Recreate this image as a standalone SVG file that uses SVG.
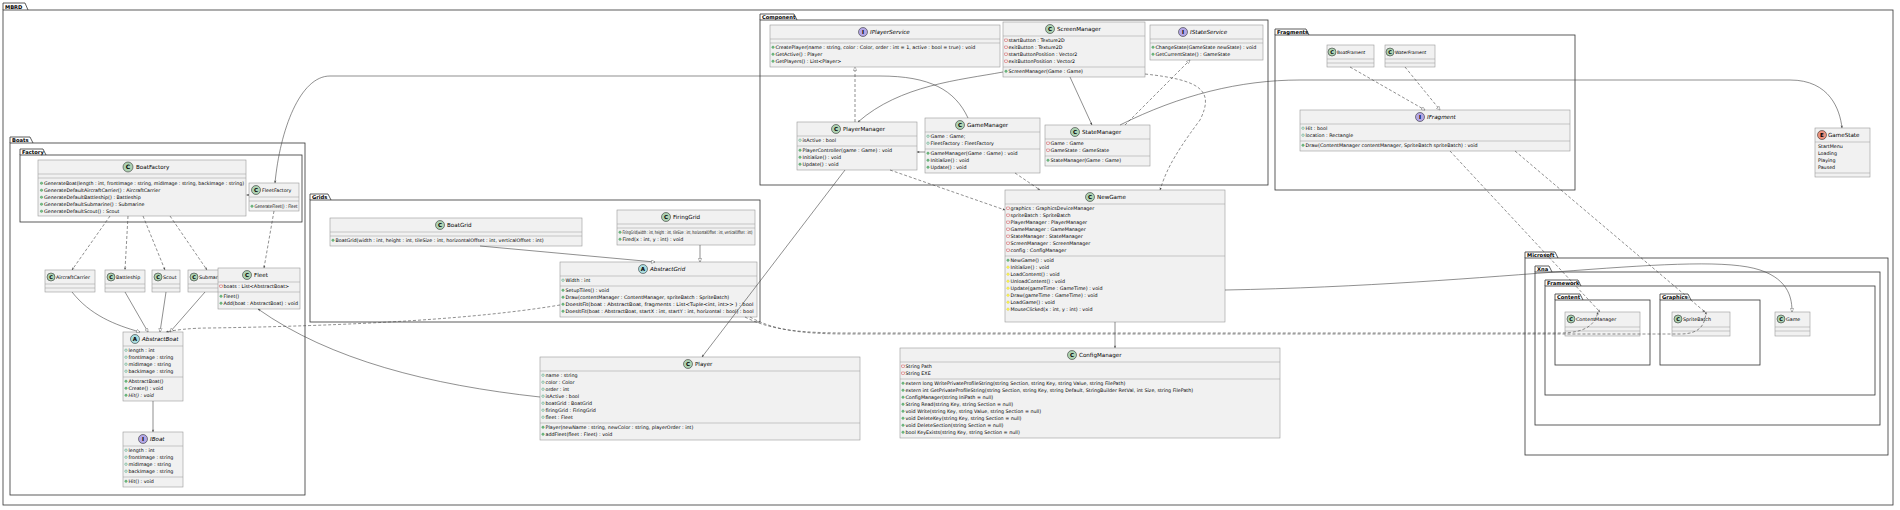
<svg xmlns="http://www.w3.org/2000/svg" xmlns:xlink="http://www.w3.org/1999/xlink" width="1900" height="510" viewBox="0 0 1900 510">
<style>
text{font-family:"DejaVu Sans","Liberation Sans",sans-serif;fill:#000}
.m{font-size:4.8px}
.n{font-size:5.6px}
.i{font-style:italic}
.tab{font-size:5.2px;font-weight:bold}
.lt{font-size:6px;font-weight:bold}
.box{fill:#F1F1F1;stroke:#999;stroke-width:.6}
.sep{stroke:#999;stroke-width:.5}
.pkg{fill:none;stroke:#333;stroke-width:.8}
.tb{fill:#fff;stroke:#333;stroke-width:.8}
.c{stroke:#181818;stroke-width:.5}
.e{fill:none;stroke:#444;stroke-width:.6}
.d{fill:none;stroke:#444;stroke-width:.6;stroke-dasharray:3 2}
</style>
<defs>
<circle id="m" r="1.2" fill="#84BE84" stroke="#038048" stroke-width=".3"/>
<circle id="f" r="1.2" fill="none" stroke="#038048" stroke-width=".4"/>
<rect id="p" x="-1.2" y="-1.2" width="2.4" height="2.4" fill="none" stroke="#C82930" stroke-width=".4"/>
<path id="pr" d="M0-1.5L1.5 0 0 1.5-1.5 0Z" fill="#FFFF44" stroke="#B38D22" stroke-width=".3"/>
<marker id="a" viewBox="0 0 10 10" refX="9" refY="5" markerWidth="5" markerHeight="5" orient="auto"><path d="M0 1L9 5 0 9 3 5Z" fill="#444"/></marker>
<marker id="t" viewBox="0 0 12 12" refX="11" refY="6" markerWidth="7" markerHeight="7" orient="auto"><path d="M1 1L11 6 1 11Z" fill="#fff" stroke="#444"/></marker>
</defs>

<!-- packages -->
<g id="pkg-mbrd"><path class="tb" d="M3 10V3H25L28 10"/><text class="tab" x="5" y="8.8">MBRD</text><rect class="pkg" x="3" y="10" width="1890" height="495"/></g>
<g id="pkg-boats"><path class="tb" d="M10 143V137H30L33 143"/><text class="tab" x="12" y="141.8">Boats</text><rect class="pkg" x="10" y="143" width="295" height="352"/></g>
<g id="pkg-factory"><path class="tb" d="M20 155V149H43L46 155"/><text class="tab" x="22" y="153.8">Factory</text><rect class="pkg" x="20" y="155" width="282" height="67"/></g>
<g id="pkg-grids"><path class="tb" d="M310 200V194H328L331 200"/><text class="tab" x="312" y="198.8">Grids</text><rect class="pkg" x="310" y="200" width="450" height="122"/></g>
<g id="pkg-component"><path class="tb" d="M760 20V14H794L797 20"/><text class="tab" x="762" y="18.8">Component</text><rect class="pkg" x="760" y="20" width="508" height="165"/></g>
<g id="pkg-fragments"><path class="tb" d="M1275 35V29H1306L1309 35"/><text class="tab" x="1277" y="33.8">Fragments</text><rect class="pkg" x="1275" y="35" width="300" height="155"/></g>
<g id="pkg-ms"><path class="tb" d="M1525 258V252H1555L1558 258"/><text class="tab" x="1527" y="256.8">Microsoft</text><rect class="pkg" x="1525" y="258" width="363" height="197"/>
<path class="tb" d="M1535 272V266H1549L1552 272"/><text class="tab" x="1537" y="270.8">Xna</text><rect class="pkg" x="1535" y="272" width="345" height="153"/>
<path class="tb" d="M1545 286V280H1578L1581 286"/><text class="tab" x="1547" y="284.8">Framework</text><rect class="pkg" x="1545" y="286" width="330" height="109"/>
<path class="tb" d="M1555 300V294H1580L1583 300"/><text class="tab" x="1557" y="298.8">Content</text><rect class="pkg" x="1555" y="300" width="95" height="65"/>
<path class="tb" d="M1660 300V294H1688L1691 300"/><text class="tab" x="1662" y="298.8">Graphics</text><rect class="pkg" x="1660" y="300" width="100" height="65"/></g>

<!-- classes -->
<g id="BoatFactory"><rect class="box" x="38" y="160" width="208" height="56"/><circle cx="128" cy="167" r="5" fill="#ADD1B2" class="c"/><text class="lt" x="128" y="169.2" text-anchor="middle">C</text><text class="n" x="136" y="169">BoatFactory</text><line class="sep" x1="38" y1="174" x2="246" y2="174"/><line class="sep" x1="38" y1="178" x2="246" y2="178"/>
<g class="m"><use href="#m" x="41.5" y="183.2"/><text x="44" y="185" textLength="200" lengthAdjust="spacingAndGlyphs">GenerateBoat(length : int, frontImage : string, midImage : string, backImage : string)</text>
<use href="#m" x="41.5" y="190.2"/><text x="44" y="192">GenerateDefaultAircraftCarrier() : AircraftCarrier</text>
<use href="#m" x="41.5" y="197.2"/><text x="44" y="199">GenerateDefaultBattleship() : Battleship</text>
<use href="#m" x="41.5" y="204.2"/><text x="44" y="206">GenerateDefaultSubmarine() : Submarine</text>
<use href="#m" x="41.5" y="211.2"/><text x="44" y="213">GenerateDefaultScout() : Scout</text></g></g>

<g id="FleetFactory"><rect class="box" x="249" y="183" width="50" height="28"/><circle cx="256" cy="190" r="4.5" fill="#ADD1B2" class="c"/><text class="lt" x="256" y="192.2" text-anchor="middle" style="font-size:5.5px">C</text><text class="n" x="262" y="192" style="font-size:4.8px">FleetFactory</text><line class="sep" x1="249" y1="197" x2="299" y2="197"/><line class="sep" x1="249" y1="201" x2="299" y2="201"/><use href="#m" x="252" y="206.2"/><text class="m" x="254.5" y="208" textLength="43" lengthAdjust="spacingAndGlyphs">GenerateFleet() : Fleet</text></g>

<g id="AircraftCarrier"><rect class="box" x="45" y="270" width="50" height="22"/><circle cx="51" cy="277" r="4" fill="#ADD1B2" class="c"/><text class="lt" x="51" y="279" text-anchor="middle" style="font-size:5px">C</text><text class="m" x="56" y="279">AircraftCarrier</text><line class="sep" x1="45" y1="284" x2="95" y2="284"/><line class="sep" x1="45" y1="288" x2="95" y2="288"/></g>
<g id="Battleship"><rect class="box" x="105" y="270" width="40" height="22"/><circle cx="111" cy="277" r="4" fill="#ADD1B2" class="c"/><text class="lt" x="111" y="279" text-anchor="middle" style="font-size:5px">C</text><text class="m" x="116" y="279">Battleship</text><line class="sep" x1="105" y1="284" x2="145" y2="284"/><line class="sep" x1="105" y1="288" x2="145" y2="288"/></g>
<g id="Scout"><rect class="box" x="152" y="270" width="28" height="22"/><circle cx="158" cy="277" r="4" fill="#ADD1B2" class="c"/><text class="lt" x="158" y="279" text-anchor="middle" style="font-size:5px">C</text><text class="m" x="163" y="279">Scout</text><line class="sep" x1="152" y1="284" x2="180" y2="284"/><line class="sep" x1="152" y1="288" x2="180" y2="288"/></g>
<g id="Submarine"><rect class="box" x="188" y="270" width="42" height="22"/><circle cx="194" cy="277" r="4" fill="#ADD1B2" class="c"/><text class="lt" x="194" y="279" text-anchor="middle" style="font-size:5px">C</text><text class="m" x="199" y="279">Submarine</text><line class="sep" x1="188" y1="284" x2="230" y2="284"/><line class="sep" x1="188" y1="288" x2="230" y2="288"/></g>

<g id="Fleet"><rect class="box" x="218" y="268" width="82" height="41"/><circle cx="247" cy="275" r="4.5" fill="#ADD1B2" class="c"/><text class="lt" x="247" y="277.2" text-anchor="middle" style="font-size:5.5px">C</text><text class="n" x="254" y="277">Fleet</text><line class="sep" x1="218" y1="282" x2="300" y2="282"/>
<g class="m"><use href="#p" x="221" y="286.2"/><text x="223.5" y="288">boats : List&lt;AbstractBoat&gt;</text><line class="sep" x1="218" y1="292" x2="300" y2="292"/>
<use href="#m" x="221" y="296.2"/><text x="223.5" y="298">Fleet()</text><use href="#m" x="221" y="303.2"/><text x="223.5" y="305">Add(boat : AbstractBoat) : void</text></g></g>

<g id="AbstractBoat"><rect class="box" x="123" y="332" width="60" height="69"/><circle cx="135" cy="339" r="4.5" fill="#A9DCDF" class="c"/><text class="lt" x="135" y="341.2" text-anchor="middle" style="font-size:5.5px">A</text><text class="n i" x="142" y="341">AbstractBoat</text><line class="sep" x1="123" y1="346" x2="183" y2="346"/>
<g class="m"><use href="#f" x="126" y="350.2"/><text x="128.5" y="352">length : int</text><use href="#f" x="126" y="357.2"/><text x="128.5" y="359">frontImage : string</text><use href="#f" x="126" y="364.2"/><text x="128.5" y="366">midImage : string</text><use href="#f" x="126" y="371.2"/><text x="128.5" y="373">backImage : string</text>
<line class="sep" x1="123" y1="377" x2="183" y2="377"/>
<use href="#m" x="126" y="381.2"/><text x="128.5" y="383">AbstractBoat()</text><use href="#m" x="126" y="388.2"/><text x="128.5" y="390">Create() : void</text><use href="#m" x="126" y="395.2"/><text x="128.5" y="397" class="i">Hit() : void</text></g></g>

<g id="IBoat"><rect class="box" x="123" y="432" width="60" height="55"/><circle cx="143" cy="439" r="4.5" fill="#B4A7E5" class="c"/><text class="lt" x="143" y="441.2" text-anchor="middle" style="font-size:5.5px">I</text><text class="n i" x="150" y="441">IBoat</text><line class="sep" x1="123" y1="446" x2="183" y2="446"/>
<g class="m"><use href="#f" x="126" y="450.2"/><text x="128.5" y="452">length : int</text><use href="#f" x="126" y="457.2"/><text x="128.5" y="459">frontImage : string</text><use href="#f" x="126" y="464.2"/><text x="128.5" y="466">midImage : string</text><use href="#f" x="126" y="471.2"/><text x="128.5" y="473">backImage : string</text>
<line class="sep" x1="123" y1="477" x2="183" y2="477"/><use href="#m" x="126" y="481.2"/><text x="128.5" y="483">Hit() : void</text></g></g>

<g id="BoatGrid"><rect class="box" x="330" y="218" width="252" height="28"/><circle cx="440" cy="225" r="4.5" fill="#ADD1B2" class="c"/><text class="lt" x="440" y="227.2" text-anchor="middle" style="font-size:5.5px">C</text><text class="n" x="447" y="227">BoatGrid</text><line class="sep" x1="330" y1="232" x2="582" y2="232"/><line class="sep" x1="330" y1="236" x2="582" y2="236"/><use href="#m" x="333" y="240.2"/><text class="m" x="335.5" y="242">BoatGrid(width : int, height : int, tileSize : int, horizontalOffset : int, verticalOffset : int)</text></g>

<g id="FiringGrid"><rect class="box" x="617" y="210" width="138" height="35"/><circle cx="666" cy="217" r="4.5" fill="#ADD1B2" class="c"/><text class="lt" x="666" y="219.2" text-anchor="middle" style="font-size:5.5px">C</text><text class="n" x="673" y="219">FiringGrid</text><line class="sep" x1="617" y1="224" x2="755" y2="224"/><line class="sep" x1="617" y1="228" x2="755" y2="228"/>
<g class="m"><use href="#m" x="620" y="232.2"/><text x="622.5" y="234" textLength="130" lengthAdjust="spacingAndGlyphs">FiringGrid(width : int, height : int, tileSize : int, horizontalOffset : int, verticalOffset : int)</text><use href="#m" x="620" y="239.2"/><text x="622.5" y="241">Fired(x : int, y : int) : void</text></g></g>

<g id="AbstractGrid"><rect class="box" x="560" y="262" width="197" height="55"/><circle cx="643" cy="269" r="4.5" fill="#A9DCDF" class="c"/><text class="lt" x="643" y="271.2" text-anchor="middle" style="font-size:5.5px">A</text><text class="n i" x="650" y="271">AbstractGrid</text><line class="sep" x1="560" y1="276" x2="757" y2="276"/>
<g class="m"><use href="#f" x="563" y="280.2"/><text x="565.5" y="282">Width : int</text><line class="sep" x1="560" y1="286" x2="757" y2="286"/>
<use href="#m" x="563" y="290.2"/><text x="565.5" y="292">SetupTiles() : void</text>
<use href="#m" x="563" y="297.2"/><text x="565.5" y="299">Draw(contentManager : ContentManager, spriteBatch : SpriteBatch)</text>
<use href="#m" x="563" y="304.2"/><text x="565.5" y="306" textLength="188" lengthAdjust="spacingAndGlyphs">DoesItFit(boat : AbstractBoat, fragments : List&lt;Tuple&lt;int, int&gt;&gt; ) : bool</text>
<use href="#m" x="563" y="311.2"/><text x="565.5" y="313" textLength="188" lengthAdjust="spacingAndGlyphs">DoesItFit(boat : AbstractBoat, startX : int, startY : int, horizontal : bool) : bool</text></g></g>

<g id="Player"><rect class="box" x="540" y="357" width="320" height="83"/><circle cx="688" cy="364" r="4.5" fill="#ADD1B2" class="c"/><text class="lt" x="688" y="366.2" text-anchor="middle" style="font-size:5.5px">C</text><text class="n" x="695" y="366">Player</text><line class="sep" x1="540" y1="371" x2="860" y2="371"/>
<g class="m"><use href="#f" x="543" y="375.2"/><text x="545.5" y="377">name : string</text><use href="#f" x="543" y="382.2"/><text x="545.5" y="384">color : Color</text><use href="#f" x="543" y="389.2"/><text x="545.5" y="391">order : int</text><use href="#f" x="543" y="396.2"/><text x="545.5" y="398">isActive : bool</text><use href="#f" x="543" y="403.2"/><text x="545.5" y="405">boatGrid : BoatGrid</text><use href="#f" x="543" y="410.2"/><text x="545.5" y="412">firingGrid : FiringGrid</text><use href="#f" x="543" y="417.2"/><text x="545.5" y="419">fleet : Fleet</text>
<line class="sep" x1="540" y1="423" x2="860" y2="423"/>
<use href="#m" x="543" y="427.2"/><text x="545.5" y="429">Player(newName : string, newColor : string, playerOrder : int)</text><use href="#m" x="543" y="434.2"/><text x="545.5" y="436">addFleet(fleet : Fleet) : void</text></g></g>

<g id="IPlayerService"><rect class="box" x="770" y="25" width="230" height="42"/><circle cx="863" cy="32" r="4.5" fill="#B4A7E5" class="c"/><text class="lt" x="863" y="34.2" text-anchor="middle" style="font-size:5.5px">I</text><text class="n i" x="870" y="34">IPlayerService</text><line class="sep" x1="770" y1="39" x2="1000" y2="39"/><line class="sep" x1="770" y1="43" x2="1000" y2="43"/>
<g class="m"><use href="#m" x="773" y="47.2"/><text x="775.5" y="49">CreatePlayer(name : string, color : Color, order : int = 1, active : bool = true) : void</text><use href="#m" x="773" y="54.2"/><text x="775.5" y="56">GetActive() : Player</text><use href="#m" x="773" y="61.2"/><text x="775.5" y="63">GetPlayers() : List&lt;Player&gt;</text></g></g>

<g id="ScreenManager"><rect class="box" x="1003" y="22" width="142" height="55"/><circle cx="1050" cy="29" r="4.5" fill="#ADD1B2" class="c"/><text class="lt" x="1050" y="31.2" text-anchor="middle" style="font-size:5.5px">C</text><text class="n" x="1057" y="31">ScreenManager</text><line class="sep" x1="1003" y1="36" x2="1145" y2="36"/>
<g class="m"><use href="#p" x="1006" y="40.2"/><text x="1008.5" y="42">startButton : Texture2D</text><use href="#p" x="1006" y="47.2"/><text x="1008.5" y="49">exitButton : Texture2D</text><use href="#p" x="1006" y="54.2"/><text x="1008.5" y="56">startButtonPosition : Vector2</text><use href="#p" x="1006" y="61.2"/><text x="1008.5" y="63">exitButtonPosition : Vector2</text>
<line class="sep" x1="1003" y1="67" x2="1145" y2="67"/><use href="#m" x="1006" y="71.2"/><text x="1008.5" y="73">ScreenManager(Game : Game)</text></g></g>

<g id="IStateService"><rect class="box" x="1150" y="25" width="113" height="35"/><circle cx="1183" cy="32" r="4.5" fill="#B4A7E5" class="c"/><text class="lt" x="1183" y="34.2" text-anchor="middle" style="font-size:5.5px">I</text><text class="n i" x="1190" y="34">IStateService</text><line class="sep" x1="1150" y1="39" x2="1263" y2="39"/><line class="sep" x1="1150" y1="43" x2="1263" y2="43"/>
<g class="m"><use href="#m" x="1153" y="47.2"/><text x="1155.5" y="49">ChangeState(GameState newState) : void</text><use href="#m" x="1153" y="54.2"/><text x="1155.5" y="56">GetCurrentState() : GameState</text></g></g>

<g id="PlayerManager"><rect class="box" x="797" y="122" width="120" height="48"/><circle cx="836" cy="129" r="4.5" fill="#ADD1B2" class="c"/><text class="lt" x="836" y="131.2" text-anchor="middle" style="font-size:5.5px">C</text><text class="n" x="843" y="131">PlayerManager</text><line class="sep" x1="797" y1="136" x2="917" y2="136"/>
<g class="m"><use href="#f" x="800" y="140.2"/><text x="802.5" y="142">isActive : bool</text><line class="sep" x1="797" y1="146" x2="917" y2="146"/>
<use href="#m" x="800" y="150.2"/><text x="802.5" y="152">PlayerController(game : Game) : void</text><use href="#m" x="800" y="157.2"/><text x="802.5" y="159">Initialize() : void</text><use href="#m" x="800" y="164.2"/><text x="802.5" y="166">Update() : void</text></g></g>

<g id="GameManager"><rect class="box" x="925" y="118" width="115" height="55"/><circle cx="960" cy="125" r="4.5" fill="#ADD1B2" class="c"/><text class="lt" x="960" y="127.2" text-anchor="middle" style="font-size:5.5px">C</text><text class="n" x="967" y="127">GameManager</text><line class="sep" x1="925" y1="132" x2="1040" y2="132"/>
<g class="m"><use href="#f" x="928" y="136.2"/><text x="930.5" y="138">Game : Game;</text><use href="#f" x="928" y="143.2"/><text x="930.5" y="145">FleetFactory : FleetFactory</text><line class="sep" x1="925" y1="149" x2="1040" y2="149"/>
<use href="#m" x="928" y="153.2"/><text x="930.5" y="155">GameManager(Game : Game) : void</text><use href="#m" x="928" y="160.2"/><text x="930.5" y="162">Initialize() : void</text><use href="#m" x="928" y="167.2"/><text x="930.5" y="169">Update() : void</text></g></g>

<g id="StateManager"><rect class="box" x="1045" y="125" width="105" height="41"/><circle cx="1075" cy="132" r="4.5" fill="#ADD1B2" class="c"/><text class="lt" x="1075" y="134.2" text-anchor="middle" style="font-size:5.5px">C</text><text class="n" x="1082" y="134">StateManager</text><line class="sep" x1="1045" y1="139" x2="1150" y2="139"/>
<g class="m"><use href="#p" x="1048" y="143.2"/><text x="1050.5" y="145">Game : Game</text><use href="#p" x="1048" y="150.2"/><text x="1050.5" y="152">GameState : GameState</text><line class="sep" x1="1045" y1="156" x2="1150" y2="156"/>
<use href="#m" x="1048" y="160.2"/><text x="1050.5" y="162">StateManager(Game : Game)</text></g></g>

<g id="BoatFrament"><rect class="box" x="1327" y="45" width="47" height="22"/><circle cx="1332" cy="52" r="4" fill="#ADD1B2" class="c"/><text class="lt" x="1332" y="54" text-anchor="middle" style="font-size:5px">C</text><text class="m" x="1337" y="54" style="font-size:4.4px">BoatFrament</text><line class="sep" x1="1327" y1="59" x2="1374" y2="59"/><line class="sep" x1="1327" y1="63" x2="1374" y2="63"/></g>
<g id="WaterFrament"><rect class="box" x="1385" y="45" width="50" height="22"/><circle cx="1390" cy="52" r="4" fill="#ADD1B2" class="c"/><text class="lt" x="1390" y="54" text-anchor="middle" style="font-size:5px">C</text><text class="m" x="1395" y="54" style="font-size:4.4px">WaterFrament</text><line class="sep" x1="1385" y1="59" x2="1435" y2="59"/><line class="sep" x1="1385" y1="63" x2="1435" y2="63"/></g>

<g id="IFragment"><rect class="box" x="1300" y="110" width="270" height="41"/><circle cx="1420" cy="117" r="4.5" fill="#B4A7E5" class="c"/><text class="lt" x="1420" y="119.2" text-anchor="middle" style="font-size:5.5px">I</text><text class="n i" x="1427" y="119">IFragment</text><line class="sep" x1="1300" y1="124" x2="1570" y2="124"/>
<g class="m"><use href="#f" x="1303" y="128.2"/><text x="1305.5" y="130">Hit : bool</text><use href="#f" x="1303" y="135.2"/><text x="1305.5" y="137">location : Rectangle</text><line class="sep" x1="1300" y1="141" x2="1570" y2="141"/>
<use href="#m" x="1303" y="145.2"/><text x="1305.5" y="147">Draw(ContentManager contentManager, SpriteBatch spriteBatch) : void</text></g></g>

<g id="GameState"><rect class="box" x="1815" y="128" width="55" height="49"/><circle cx="1822" cy="135" r="4.5" fill="#EB937F" class="c"/><text class="lt" x="1822" y="137.2" text-anchor="middle" style="font-size:5.5px">E</text><text class="n" x="1828" y="137">GameState</text><line class="sep" x1="1815" y1="142" x2="1870" y2="142"/>
<g class="m"><text x="1818" y="148">StartMenu</text><text x="1818" y="155">Loading</text><text x="1818" y="162">Playing</text><text x="1818" y="169">Paused</text></g><line class="sep" x1="1815" y1="173" x2="1870" y2="173"/></g>

<g id="NewGame"><rect class="box" x="1005" y="190" width="220" height="132"/><circle cx="1090" cy="197" r="4.5" fill="#ADD1B2" class="c"/><text class="lt" x="1090" y="199.2" text-anchor="middle" style="font-size:5.5px">C</text><text class="n" x="1097" y="199">NewGame</text><line class="sep" x1="1005" y1="204" x2="1225" y2="204"/>
<g class="m"><use href="#p" x="1008" y="208.2"/><text x="1010.5" y="210">graphics : GraphicsDeviceManager</text><use href="#p" x="1008" y="215.2"/><text x="1010.5" y="217">spriteBatch : SpriteBatch</text><use href="#p" x="1008" y="222.2"/><text x="1010.5" y="224">PlayerManager : PlayerManager</text><use href="#p" x="1008" y="229.2"/><text x="1010.5" y="231">GameManager : GameManager</text><use href="#p" x="1008" y="236.2"/><text x="1010.5" y="238">StateManager : StateManager</text><use href="#p" x="1008" y="243.2"/><text x="1010.5" y="245">ScreenManager : ScreenManager</text><use href="#p" x="1008" y="250.2"/><text x="1010.5" y="252">config : ConfigManager</text>
<line class="sep" x1="1005" y1="256" x2="1225" y2="256"/>
<use href="#m" x="1008" y="260.2"/><text x="1010.5" y="262">NewGame() : void</text><use href="#pr" x="1008" y="267.2"/><text x="1010.5" y="269">Initialize() : void</text><use href="#pr" x="1008" y="274.2"/><text x="1010.5" y="276">LoadContent() : void</text><use href="#pr" x="1008" y="281.2"/><text x="1010.5" y="283">UnloadContent() : void</text><use href="#pr" x="1008" y="288.2"/><text x="1010.5" y="290">Update(gameTime : GameTime) : void</text><use href="#pr" x="1008" y="295.2"/><text x="1010.5" y="297">Draw(gameTime : GameTime) : void</text><use href="#pr" x="1008" y="302.2"/><text x="1010.5" y="304">LoadGame() : void</text><use href="#pr" x="1008" y="309.2"/><text x="1010.5" y="311">MouseClicked(x : int, y : int) : void</text></g></g>

<g id="ConfigManager"><rect class="box" x="900" y="348" width="380" height="90"/><circle cx="1072" cy="355" r="4.5" fill="#ADD1B2" class="c"/><text class="lt" x="1072" y="357.2" text-anchor="middle" style="font-size:5.5px">C</text><text class="n" x="1079" y="357">ConfigManager</text><line class="sep" x1="900" y1="362" x2="1280" y2="362"/>
<g class="m"><use href="#p" x="903" y="366.2"/><text x="905.5" y="368">String Path</text><use href="#p" x="903" y="373.2"/><text x="905.5" y="375">String EXE</text><line class="sep" x1="900" y1="379" x2="1280" y2="379"/>
<use href="#m" x="903" y="383.2"/><text x="905.5" y="385">extern long WritePrivateProfileString(string Section, string Key, string Value, string FilePath)</text>
<use href="#m" x="903" y="390.2"/><text x="905.5" y="392">extern int GetPrivateProfileString(string Section, string Key, string Default, StringBuilder RetVal, int Size, string FilePath)</text>
<use href="#m" x="903" y="397.2"/><text x="905.5" y="399">ConfigManager(string IniPath = null)</text>
<use href="#m" x="903" y="404.2"/><text x="905.5" y="406">String Read(string Key, string Section = null)</text>
<use href="#m" x="903" y="411.2"/><text x="905.5" y="413">void Write(string Key, string Value, string Section = null)</text>
<use href="#m" x="903" y="418.2"/><text x="905.5" y="420">void DeleteKey(string Key, string Section = null)</text>
<use href="#m" x="903" y="425.2"/><text x="905.5" y="427">void DeleteSection(string Section = null)</text>
<use href="#m" x="903" y="432.2"/><text x="905.5" y="434">bool KeyExists(string Key, string Section = null)</text></g></g>

<g id="ContentManager"><rect class="box" x="1565" y="312" width="75" height="24"/><circle cx="1571" cy="319" r="4" fill="#ADD1B2" class="c"/><text class="lt" x="1571" y="321" text-anchor="middle" style="font-size:5px">C</text><text class="m" x="1576" y="321">ContentManager</text><line class="sep" x1="1565" y1="327" x2="1640" y2="327"/><line class="sep" x1="1565" y1="331" x2="1640" y2="331"/></g>
<g id="SpriteBatch"><rect class="box" x="1672" y="312" width="58" height="24"/><circle cx="1678" cy="319" r="4" fill="#ADD1B2" class="c"/><text class="lt" x="1678" y="321" text-anchor="middle" style="font-size:5px">C</text><text class="m" x="1683" y="321">SpriteBatch</text><line class="sep" x1="1672" y1="327" x2="1730" y2="327"/><line class="sep" x1="1672" y1="331" x2="1730" y2="331"/></g>
<g id="Game"><rect class="box" x="1775" y="312" width="35" height="24"/><circle cx="1781" cy="319" r="4" fill="#ADD1B2" class="c"/><text class="lt" x="1781" y="321" text-anchor="middle" style="font-size:5px">C</text><text class="m" x="1786" y="321">Game</text><line class="sep" x1="1775" y1="327" x2="1810" y2="327"/><line class="sep" x1="1775" y1="331" x2="1810" y2="331"/></g>

<!-- connectors -->
<g id="connectors">
<path class="e" d="M249 195H246.5" marker-end="url(#a)"/>
<path class="d" d="M110 216L72 270" marker-end="url(#a)"/>
<path class="d" d="M128 216L125 270" marker-end="url(#a)"/>
<path class="d" d="M143 216L165 270" marker-end="url(#a)"/>
<path class="d" d="M170 216L207 270" marker-end="url(#a)"/>
<path class="d" d="M274 211L264 268" marker-end="url(#a)"/>
<path class="e" d="M72 292C90 315 115 325 140 332" marker-end="url(#t)"/>
<path class="e" d="M125 292L148 332" marker-end="url(#t)"/>
<path class="e" d="M166 292L160 332" marker-end="url(#t)"/>
<path class="e" d="M205 292L170 332" marker-end="url(#t)"/>
<path class="e" d="M153 401V432" marker-end="url(#a)"/>
<path class="d" d="M560 305C500 315 400 325 210 328C190 328 175 330 166 332" marker-end="url(#a)"/>
<path class="e" d="M480 246L655 262" marker-end="url(#t)"/>
<path class="e" d="M700 245V262" marker-end="url(#t)"/>
<path class="e" d="M540 397C430 385 330 360 258 309" marker-end="url(#a)"/>
<path class="e" d="M845 170L702 357" marker-end="url(#a)"/>
<path class="d" d="M855 122V67" marker-end="url(#t)"/>
<path class="e" d="M925 152H917" marker-end="url(#a)"/>
<path class="e" d="M1003 72C960 80 900 85 858 122" marker-end="url(#a)"/>
<path class="e" d="M1070 77L1092 125" marker-end="url(#a)"/>
<path class="d" d="M1145 74C1200 80 1215 90 1200 120C1170 160 1165 175 1160 190" marker-end="url(#a)"/>
<path class="d" d="M1125 125L1190 60" marker-end="url(#t)"/>
<path class="d" d="M1015 173L1040 190" marker-end="url(#a)"/>
<path class="d" d="M890 170L1005 210" marker-end="url(#a)"/>
<path class="e" d="M968 118C955 90 930 76 880 76H330C300 76 280 130 275 183" marker-end="url(#a)"/>
<path class="e" d="M1120 125C1180 95 1240 80 1300 80H1790C1830 80 1840 110 1842 128" marker-end="url(#a)"/>
<path class="d" d="M1350 67L1425 110" marker-end="url(#t)"/>
<path class="d" d="M1405 67L1440 110" marker-end="url(#t)"/>
<path class="d" d="M1450 151L1600 312" marker-end="url(#a)"/>
<path class="d" d="M1515 151L1705 312" marker-end="url(#a)"/>
<path class="e" d="M1115 322V348" marker-end="url(#a)"/>
<path class="e" d="M1225 290C1500 285 1700 250 1760 270C1790 280 1792 300 1792 312" marker-end="url(#t)"/>
<path class="d" d="M745 317C770 330 800 333 850 333H1560C1585 333 1595 325 1598 312" marker-end="url(#a)"/>
<path class="d" d="M750 317C775 331 805 334 850 334H1680C1700 334 1705 325 1706 312" marker-end="url(#a)"/>
</g>
</svg>
